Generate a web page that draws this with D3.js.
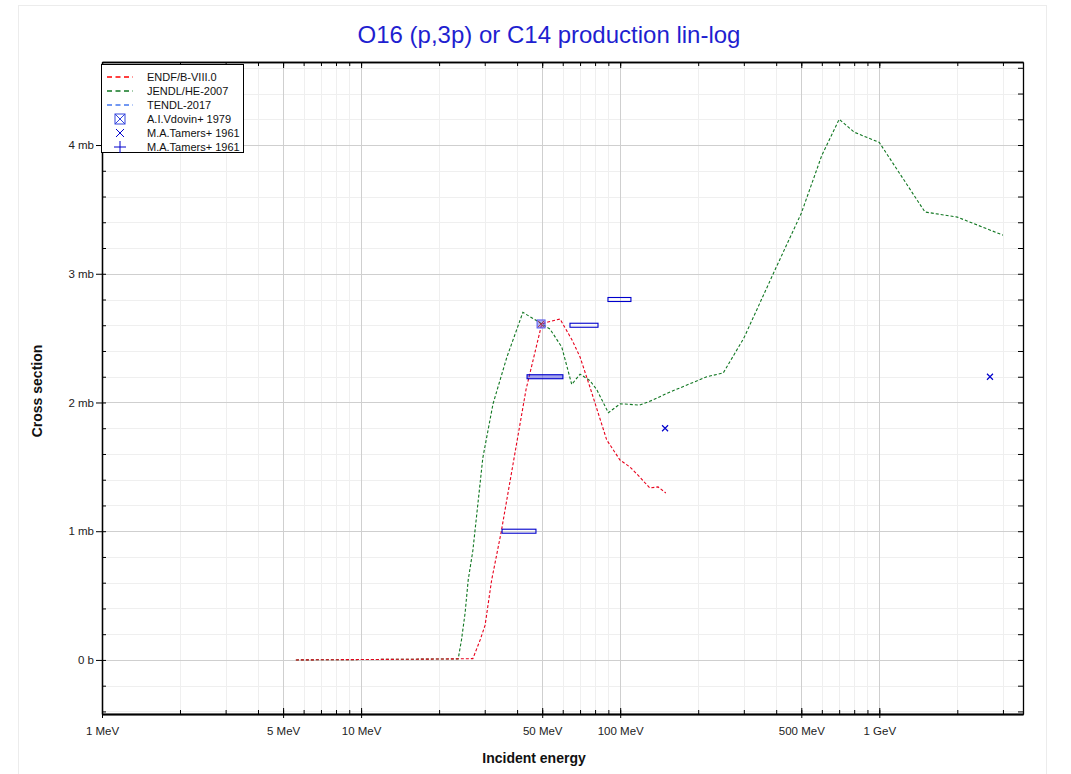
<!DOCTYPE html>
<html><head><meta charset="utf-8">
<script src="https://cdn.jsdelivr.net/npm/d3@7"></script>
<style>body{margin:0;background:#fff;}svg{display:block;font-family:"Liberation Sans",Arial,sans-serif;}</style>
</head><body>
<svg id="chart" width="1071" height="774"></svg>
<script>
// ---- data (energies in MeV, cross sections in mb) ----
const endfE = [5.6, 10, 20, 27, 28.8, 30.1, 31.9, 34.7, 43.3, 49.8, 52.6, 58.6, 65.2, 70, 76.4, 88.7, 99.8, 109, 119, 130, 140, 150];
const endfV = [0, 0.003, 0.007, 0.01, 0.155, 0.27, 0.62, 0.99, 2.10, 2.61, 2.625, 2.648, 2.485, 2.353, 2.12, 1.709, 1.553, 1.499, 1.421, 1.336, 1.344, 1.297];
const jendlE = [5.6, 10, 20, 23.7, 24.4, 25.2, 25.9, 27, 29.5, 32.3, 36.5, 42.1, 49, 53.6, 59.5, 65, 70, 76.4, 81.2, 90, 100, 119, 134, 151, 216, 250, 300, 400, 500, 600, 700, 800, 1000, 1500, 2000, 3000];
const jendlV = [0, 0.003, 0.007, 0.008, 0.155, 0.365, 0.62, 0.85, 1.57, 1.99, 2.35, 2.70, 2.62, 2.57, 2.43, 2.14, 2.22, 2.17, 2.10, 1.92, 1.99, 1.98, 2.02, 2.07, 2.20, 2.23, 2.50, 3.05, 3.47, 3.92, 4.20, 4.10, 4.02, 3.48, 3.44, 3.30];
const tendlE = [];
const tendlV = [];
// A.I.Vdovin+ 1979
const vdovinE = [49.5];
const vdovinV = [2.61];
// M.A.Tamers+ 1961 (x marker)
const tamersXE = [149, 2674];
const tamersXV = [1.80, 2.20];
// M.A.Tamers+ 1961 (+ marker, energy bins)
const tamersPlusLo = [35.0, 43.7, 64.0, 89.7];
const tamersPlusHi = [47.3, 60.1, 82.1, 110];
const tamersPlusV = [1.0, 2.2, 2.6, 2.8];

const xTickVals = [1, 5, 10, 50, 100, 500, 1000];
const xTickLabels = ["1 MeV", "5 MeV", "10 MeV", "50 MeV", "100 MeV", "500 MeV", "1 GeV"];
const yTickVals = [0, 1, 2, 3, 4];
const yTickLabels = ["0 b", "1 mb", "2 mb", "3 mb", "4 mb"];
const legendNames = ["ENDF/B-VIII.0", "JENDL/HE-2007", "TENDL-2017", "A.I.Vdovin+ 1979", "M.A.Tamers+ 1961", "M.A.Tamers+ 1961"];

// ---- layout ----
const L = 102, R = 1023, T = 62, B = 714;
const svg = d3.select("#chart");
const x = d3.scaleLog().domain([1, 3586]).range([L, R]);
const y = d3.scaleLinear().domain([-0.42, 4.645]).range([B, T]);

svg.append("rect").attr("x", 18.5).attr("y", 5.5).attr("width", 1028).attr("height", 780)
  .attr("fill", "none").attr("stroke", "#ececec");

const xMinor = [];
for (let d = 1; d <= 1000; d *= 10) for (let k = 1; k <= 9; k++) { const v = d * k; if (v <= 3586) xMinor.push(v); }
const xMinorOnly = xMinor.filter(v => !xTickVals.includes(v));
const yMinor = d3.range(-0.4, 4.65, 0.2).map(v => +v.toFixed(2));
const yMinorOnly = yMinor.filter(v => Math.abs(v - Math.round(v)) > 1e-6);

const grid = svg.append("g");
grid.selectAll(".gxm").data(xMinorOnly).join("line")
  .attr("x1", d => Math.round(x(d)) + 0.5).attr("x2", d => Math.round(x(d)) + 0.5)
  .attr("y1", T).attr("y2", B).attr("stroke", "#efefef").attr("stroke-width", 1);
grid.selectAll(".gym").data(yMinorOnly).join("line")
  .attr("y1", d => Math.round(y(d)) + 0.5).attr("y2", d => Math.round(y(d)) + 0.5)
  .attr("x1", L).attr("x2", R).attr("stroke", "#efefef").attr("stroke-width", 1);
grid.selectAll(".gxM").data(xTickVals).join("line")
  .attr("x1", d => Math.round(x(d)) + 0.5).attr("x2", d => Math.round(x(d)) + 0.5)
  .attr("y1", T).attr("y2", B).attr("stroke", "#cfcfcf").attr("stroke-width", 1);
grid.selectAll(".gyM").data(yTickVals).join("line")
  .attr("y1", d => Math.round(y(d)) + 0.5).attr("y2", d => Math.round(y(d)) + 0.5)
  .attr("x1", L).attr("x2", R).attr("stroke", "#cfcfcf").attr("stroke-width", 1);

// ---- axes ----
const fmtX = d => xTickLabels[xTickVals.indexOf(d)];
const fmtY = d => yTickLabels[yTickVals.indexOf(d)];
const axB = svg.append("g").attr("transform", `translate(0,${B})`)
  .call(d3.axisBottom(x).tickValues(xTickVals).tickFormat(fmtX).tickSizeInner(4).tickSizeOuter(0));
const axBm = svg.append("g").attr("transform", `translate(0,${B})`)
  .call(d3.axisTop(x).tickValues(xMinor).tickFormat("").tickSizeInner(4).tickSizeOuter(0));
const axBM = svg.append("g").attr("transform", `translate(0,${B})`)
  .call(d3.axisTop(x).tickValues(xTickVals).tickFormat("").tickSizeInner(6).tickSizeOuter(0));
const axT = svg.append("g").attr("transform", `translate(0,${T})`)
  .call(d3.axisBottom(x).tickValues(xMinor).tickFormat("").tickSizeInner(4).tickSizeOuter(0));
const axTM = svg.append("g").attr("transform", `translate(0,${T})`)
  .call(d3.axisBottom(x).tickValues(xTickVals).tickFormat("").tickSizeInner(6).tickSizeOuter(0));
const axL = svg.append("g").attr("transform", `translate(${L},0)`)
  .call(d3.axisLeft(y).tickValues(yTickVals).tickFormat(fmtY).tickSizeInner(6).tickSizeOuter(0));
const axLm = svg.append("g").attr("transform", `translate(${L},0)`)
  .call(d3.axisRight(y).tickValues(yMinor).tickFormat("").tickSizeInner(4).tickSizeOuter(0));
const axR = svg.append("g").attr("transform", `translate(${R},0)`)
  .call(d3.axisLeft(y).tickValues(yMinor).tickFormat("").tickSizeInner(5).tickSizeOuter(0));
[axB, axBm, axBM, axT, axTM, axL, axLm, axR].forEach(g => {
  g.select(".domain").attr("stroke", "#000").attr("stroke-width", 1.3);
  g.selectAll(".tick line").attr("stroke", "#000");
  g.selectAll("text").attr("font-size", 11.5).attr("fill", "#222").attr("font-family", "Liberation Sans, Arial, sans-serif");
});
axB.selectAll("text").attr("dy", "1.0em").attr("y", 9);
axL.selectAll("text").attr("x", -8);

// titles
svg.append("text").attr("x", 549).attr("y", 43).attr("text-anchor", "middle")
  .attr("font-size", 24).attr("fill", "#1f1fd0").text("O16 (p,3p) or C14 production lin-log");
svg.append("text").attr("x", 534).attr("y", 763).attr("text-anchor", "middle")
  .attr("font-size", 14).attr("font-weight", "bold").attr("fill", "#111").text("Incident energy");
svg.append("text").attr("transform", "translate(42,391) rotate(-90)").attr("text-anchor", "middle")
  .attr("font-size", 14).attr("font-weight", "bold").attr("fill", "#111").text("Cross section");

// ---- curves ----
const plot = svg.append("g");
const line = d3.line().x(d => x(d[0])).y(d => y(d[1]));
function curve(E, V, color) {
  if (!E.length) return;
  plot.append("path").datum(E.map((e, i) => [e, V[i]]))
    .attr("d", line).attr("fill", "none").attr("stroke", color)
    .attr("stroke-width", 1.1).attr("stroke-dasharray", "3,2");
}
curve(jendlE, jendlV, "#117722");
curve(endfE, endfV, "#e8001c");
curve(tendlE, tendlV, "#4477ee");

// ---- experimental data ----
const blue = "#0000cc";
plot.selectAll(".tp").data(tamersPlusV.map((v, i) => [tamersPlusLo[i], tamersPlusHi[i], v])).join("rect")
  .attr("x", d => x(d[0])).attr("width", d => x(d[1]) - x(d[0]))
  .attr("y", d => y(d[2]) - 2).attr("height", 4)
  .attr("fill", (d, i) => i === 1 ? "rgba(60,60,220,0.45)" : "none").attr("stroke", blue).attr("stroke-width", 1.1);
const vd = plot.selectAll(".vd").data(vdovinE.map((e, i) => [e, vdovinV[i]])).join("g")
  .attr("transform", d => `translate(${x(d[0])},${y(d[1])})`);
vd.append("rect").attr("x", -4).attr("y", -4).attr("width", 8).attr("height", 8)
  .attr("fill", "rgba(80,80,230,0.45)").attr("stroke", "#5555ee").attr("stroke-width", 1);
vd.append("path").attr("d", "M-3,-3L3,3M-3,3L3,-3").attr("stroke", "#aa2222").attr("stroke-width", 0.8);
plot.selectAll(".tx").data(tamersXE.map((e, i) => [e, tamersXV[i]])).join("path")
  .attr("transform", d => `translate(${x(d[0])},${y(d[1])})`)
  .attr("d", "M-3,-3L3,3M-3,3L3,-3").attr("stroke", blue).attr("stroke-width", 1.2);

// ---- legend ----
const lg = svg.append("g");
lg.append("rect").attr("x", 101.5).attr("y", 64.5).attr("width", 142).attr("height", 88)
  .attr("fill", "#fff").attr("stroke", "#000").attr("stroke-width", 1);
const rowY = i => 77 + i * 14;
const lineCols = ["#ff0000", "#117722", "#4477ee"];
legendNames.forEach((name, i) => {
  const yy = rowY(i);
  if (i < 3) {
    lg.append("line").attr("x1", 107).attr("x2", 133).attr("y1", yy).attr("y2", yy)
      .attr("stroke", lineCols[i]).attr("stroke-width", 1.6).attr("stroke-dasharray", "5,3.5");
  } else if (i === 3) {
    lg.append("rect").attr("x", 115).attr("y", yy - 5).attr("width", 10).attr("height", 10)
      .attr("fill", "none").attr("stroke", "#3344dd").attr("stroke-width", 1);
    lg.append("path").attr("d", `M115,${yy - 5}L125,${yy + 5}M115,${yy + 5}L125,${yy - 5}`).attr("stroke", "#3344dd").attr("stroke-width", 1);
  } else if (i === 4) {
    lg.append("path").attr("d", `M116,${yy - 4}L124,${yy + 4}M116,${yy + 4}L124,${yy - 4}`).attr("stroke", blue).attr("stroke-width", 1);
  } else {
    lg.append("path").attr("d", `M114,${yy}H126M120,${yy - 6}V${yy + 6}`).attr("stroke", blue).attr("stroke-width", 1);
  }
  lg.append("text").attr("x", 147).attr("y", yy + 4).attr("font-size", 11).attr("fill", "#111").text(name);
});
</script>
</body></html>
